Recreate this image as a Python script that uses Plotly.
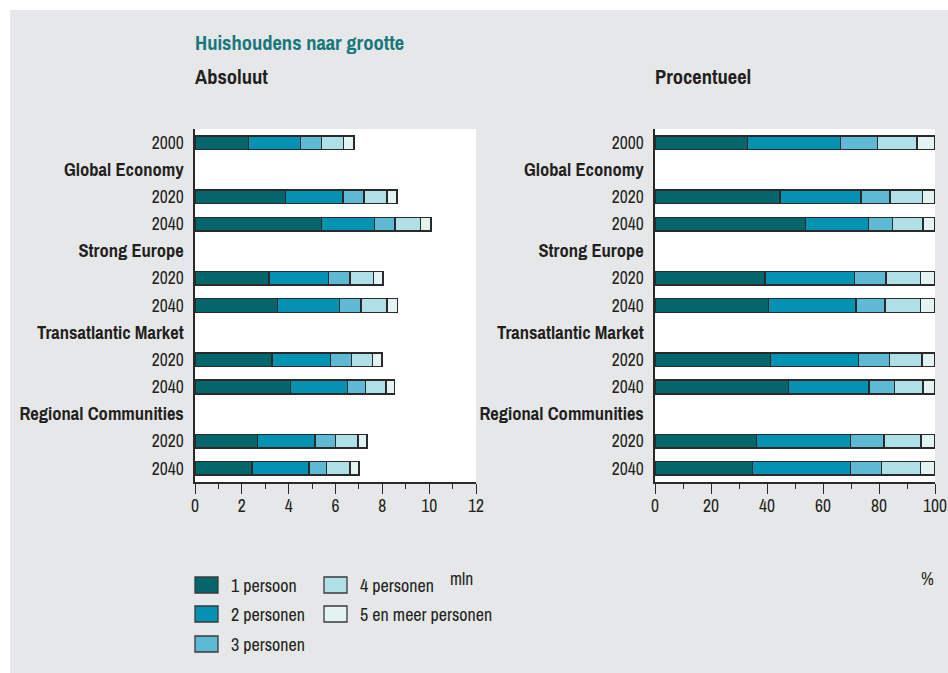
import plotly.graph_objects as go

# ---------------- data ----------------
row_keys = ["2000", "Global Economy", "GE 2020", "GE 2040",
            "Strong Europe", "SE 2020", "SE 2040",
            "Transatlantic Market", "TM 2020", "TM 2040",
            "Regional Communities", "RC 2020", "RC 2040"]
row_labels = ["2000", "Global Economy", "2020", "2040",
              "Strong Europe", "2020", "2040",
              "Transatlantic Market", "2020", "2040",
              "Regional Communities", "2020", "2040"]
group_rows = ["Global Economy", "Strong Europe", "Transatlantic Market",
              "Regional Communities"]
bar_rows = ["2000", "GE 2020", "GE 2040", "SE 2020", "SE 2040",
            "TM 2020", "TM 2040", "RC 2020", "RC 2040"]

size_labels = ["1 persoon", "2 personen", "3 personen", "4 personen",
               "5 en meer personen"]

# absolute (mln households)
abs_1p = [2.28, 3.86, 5.41, 3.16, 3.52, 3.28, 4.07, 2.66, 2.44]
abs_2p = [2.22, 2.46, 2.25, 2.55, 2.66, 2.50, 2.44, 2.47, 2.43]
abs_3p = [0.90, 0.89, 0.88, 0.90, 0.90, 0.90, 0.78, 0.88, 0.74]
abs_4p = [0.95, 0.98, 1.09, 1.01, 1.11, 0.91, 0.87, 0.94, 1.00]
abs_5p = [0.44, 0.43, 0.44, 0.41, 0.46, 0.39, 0.37, 0.40, 0.39]

# percentages
pct_1p = [33.1, 44.6, 53.7, 39.3, 40.6, 41.3, 47.7, 36.2, 34.9]
pct_2p = [33.2, 28.9, 22.6, 31.9, 31.1, 31.4, 28.7, 33.7, 35.0]
pct_3p = [13.2, 10.4, 8.6, 11.3, 10.4, 11.1, 9.2, 11.9, 11.0]
pct_4p = [14.0, 11.6, 10.9, 12.4, 12.8, 11.6, 10.2, 13.2, 14.0]
pct_5p = [6.5, 4.5, 4.2, 5.1, 5.1, 4.6, 4.2, 5.0, 5.1]

abs_series = [abs_1p, abs_2p, abs_3p, abs_4p, abs_5p]
pct_series = [pct_1p, pct_2p, pct_3p, pct_4p, pct_5p]

abs_ticks = [0, 2, 4, 6, 8, 10, 12]
pct_ticks = [0, 20, 40, 60, 80, 100]

# ---------------- style ----------------
colors = ["#02666b", "#0392b1", "#5db9d4", "#afdfe7", "#e3f3f2"]
EDGE = "#2a2a2a"
BG = "#e6e7e8"
TXT = "#231f20"
TEAL = "#17777a"
FONT = "Archivo Narrow, Liberation Sans, Arial, sans-serif"

W, H = 948, 673
OFF = 0  # page margin removed via post_script


def fx(px):
    return (px - OFF) / W


def fy(py):
    return 1 - (py - OFF) / H


tick_text = [
    f'<b><span style="font-size:18.5px">{lab}</span></b>' if key in group_rows else lab
    for key, lab in zip(row_keys, row_labels)
]

fig = go.Figure()
for i in range(5):
    fig.add_trace(go.Bar(
        x=abs_series[i], y=bar_rows, orientation="h", xaxis="x", yaxis="y",
        marker=dict(color=colors[i], line=dict(color=EDGE, width=1.5)),
        width=0.5, name=size_labels[i], showlegend=False))
    fig.add_trace(go.Bar(
        x=pct_series[i], y=bar_rows, orientation="h", xaxis="x2", yaxis="y2",
        marker=dict(color=colors[i], line=dict(color=EDGE, width=1.5)),
        width=0.5, name=size_labels[i], showlegend=False))

xcommon = dict(showline=True, linecolor=EDGE, linewidth=1.5, showgrid=False,
               zeroline=False, ticks="outside", ticklen=10, tickwidth=1.3,
               tickcolor=EDGE, automargin=False, ticklabelstandoff=-3,
               tickfont=dict(family=FONT, size=17.5, color=TXT))
ycommon = dict(type="category", categoryorder="array", categoryarray=row_keys,
               range=[12.5, -0.5], tickvals=row_keys, ticktext=tick_text,
               showline=True, linecolor=EDGE, linewidth=1.5, showgrid=False,
               zeroline=False, ticks="outside", ticklen=6, automargin=False,
               tickcolor="rgba(0,0,0,0)",
               tickfont=dict(family=FONT, size=17.5, color=TXT))

fig.update_layout(
    width=W, height=H, autosize=False,
    margin=dict(l=0, r=0, t=0, b=0, pad=0),
    paper_bgcolor=BG, plot_bgcolor="white",
    barmode="stack", showlegend=False,
    font=dict(family=FONT, size=17.5, color=TXT),
    xaxis=dict(domain=[fx(195), fx(476)], range=[0, 12], anchor="y",
               tickvals=abs_ticks,
               minor=dict(ticks="outside", ticklen=5, tickwidth=1.3,
                          tickcolor=EDGE, dtick=1),
               **xcommon),
    yaxis=dict(domain=[fy(482), fy(129)], anchor="x", **ycommon),
    xaxis2=dict(domain=[fx(655), fx(935)], range=[0, 100], anchor="y2",
                tickvals=pct_ticks,
                minor=dict(ticks="outside", ticklen=5, tickwidth=1.3,
                           tickcolor=EDGE, dtick=10),
                **xcommon),
    yaxis2=dict(domain=[fy(482), fy(129)], anchor="x2", **ycommon),
)

# white outer border at top / left (as in the reference)
for x0, x1, y0, y1 in [(0, fx(10), 0, 1), (0, 1, fy(10), 1)]:
    fig.add_shape(type="rect", xref="paper", yref="paper", x0=x0, x1=x1,
                  y0=y0, y1=y1, fillcolor="white", line=dict(width=0),
                  layer="above")

ann = [
    dict(text="<b>Huishoudens naar grootte</b>", x=fx(193), y=fy(42),
         font=dict(size=20.5, color=TEAL, family=FONT)),
    dict(text="<b>Absoluut</b>", x=fx(193), y=fy(76),
         font=dict(size=20.5, color=TXT, family=FONT)),
    dict(text="<b>Procentueel</b>", x=fx(653), y=fy(76),
         font=dict(size=20.5, color=TXT, family=FONT)),
    dict(text="mln", x=fx(475), y=fy(578), xanchor="right",
         font=dict(size=17.5, color=TXT, family=FONT)),
    dict(text="%", x=fx(936), y=fy(578), xanchor="right",
         font=dict(size=17.5, color=TXT, family=FONT)),
]
for a in ann:
    a.setdefault("xanchor", "left")
    a.update(xref="paper", yref="paper", yanchor="middle", showarrow=False)
    fig.add_annotation(**a)

# legend (manual, two columns)
legend_pos = [(195, 585), (195, 614), (195, 644), (324, 585), (324, 614)]
for (lx, ly), col, lab in zip(legend_pos, colors, size_labels):
    fig.add_shape(type="rect", xref="paper", yref="paper",
                  x0=fx(lx), x1=fx(lx + 23), y0=fy(ly - 8), y1=fy(ly + 8),
                  fillcolor=col, line=dict(color="#3a3a3a", width=1.3))
    fig.add_annotation(text=lab, xref="paper", yref="paper", x=fx(lx + 34),
                       y=fy(ly), xanchor="left", yanchor="middle",
                       showarrow=False,
                       font=dict(size=18, color=TXT, family=FONT))

fig.write_html(
    "out.html",
    config={"displayModeBar": False},
    post_script="document.body.style.margin='0';document.body.style.overflow='hidden';",
)
